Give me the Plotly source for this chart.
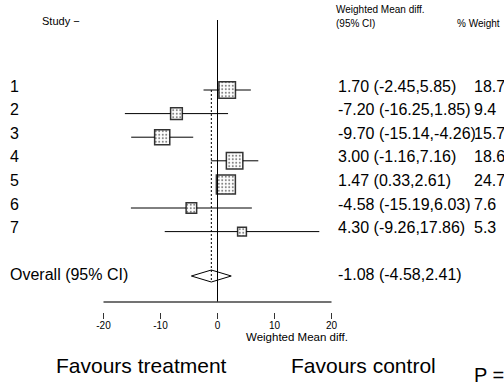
import plotly.graph_objects as go
import numpy as np

# ---- data ----
studies = ["1", "2", "3", "4", "5", "6", "7"]
estimates = [1.70, -7.20, -9.70, 3.00, 1.47, -4.58, 4.30]
ci_low = [-2.45, -16.25, -15.14, -1.16, 0.33, -15.19, -9.26]
ci_high = [5.85, 1.85, -4.26, 7.16, 2.61, 6.03, 17.86]
weights = [18.7, 9.4, 15.7, 18.6, 24.7, 7.6, 5.3]
overall_est = -1.08
overall_low = -4.58
overall_high = 2.41
tick_values = [-20, -10, 0, 10, 20]
tick_labels = ["-20", "-10", "0", "10", "20"]

# ---- layout geometry (pixels) ----
W, H = 504, 388
X0_PX = 217.5      # pixel of x = 0
PX_PER_UNIT = 5.7
ROW0 = 90.0
ROW_STEP = 23.6
OVERALL_Y = 276.0
AXIS_Y = 302.0
MAX_SIDE = 19.0
FONT = "Liberation Sans, Arial, sans-serif"

xmin = -X0_PX / PX_PER_UNIT
xmax = (W - X0_PX) / PX_PER_UNIT

row_y = [ROW0 + i * ROW_STEP for i in range(len(studies))]
max_w = max(weights)
sides = [MAX_SIDE * np.sqrt(w / max_w) for w in weights]
half_units = [s / 2 / PX_PER_UNIT for s in sides]

fig = go.Figure()

# CI lines, split around the boxes
lx, ly = [], []
for est, lo, hi, y, hu in zip(estimates, ci_low, ci_high, row_y, half_units):
    if lo < est - hu:
        lx += [lo, est - hu, None]
        ly += [y, y, None]
    if hi > est + hu:
        lx += [est + hu, hi, None]
        ly += [y, y, None]
fig.add_trace(go.Scatter(x=lx, y=ly, mode="lines",
                         line=dict(color="black", width=1),
                         hoverinfo="skip", showlegend=False))

# boxes (area proportional to weight)
fig.add_trace(go.Bar(
    orientation="h",
    y=row_y,
    base=[e - h for e, h in zip(estimates, half_units)],
    x=[2 * h for h in half_units],
    width=sides,
    marker=dict(color="white",
                line=dict(color="#333333", width=1.5),
                pattern=dict(shape=".", fgcolor="black", bgcolor="white",
                             size=3.5, solidity=0.25)),
    showlegend=False, hoverinfo="skip"))

# overall diamond
dh = 6
fig.add_trace(go.Scatter(
    x=[overall_low, overall_est, overall_high, overall_est, overall_low],
    y=[OVERALL_Y, OVERALL_Y - dh, OVERALL_Y, OVERALL_Y + dh, OVERALL_Y],
    mode="lines", fill="toself", fillcolor="white",
    line=dict(color="black", width=1), showlegend=False, hoverinfo="skip"))

shapes = [
    # no-effect line
    dict(type="line", xref="x", yref="y", x0=0, x1=0, y0=20, y1=AXIS_Y,
         line=dict(color="black", width=1)),
    # overall effect dashed line
    dict(type="line", xref="x", yref="y", x0=overall_est, x1=overall_est,
         y0=ROW0, y1=OVERALL_Y + dh, line=dict(color="black", width=1, dash="2px,2px")),
    # axis line
    dict(type="line", xref="x", yref="y", x0=tick_values[0], x1=tick_values[-1],
         y0=AXIS_Y, y1=AXIS_Y, line=dict(color="#444444", width=1.3)),
]

def px(xp):
    return xp / W

ann = []
def add_text(text, xp, yp, size, anchor="left"):
    ann.append(dict(text=text, x=px(xp), y=yp, xref="paper", yref="y",
                    xanchor=anchor, yanchor="middle", showarrow=False,
                    font=dict(family=FONT, size=size, color="black")))

add_text("Study \u2212", 40, 20.5, 11)
add_text("Weighted Mean diff.", 334, 9.5, 10)
add_text("(95% CI)", 334, 23, 10)
add_text("% Weight", 455, 23, 10)

for s, est, lo, hi, w, y in zip(studies, estimates, ci_low, ci_high, weights, row_y):
    add_text(s, 8, y - 4, 16)
    add_text(f"{est:.2f} ({lo:.2f},{hi:.2f})", 336, y - 4, 16)
    add_text(f"{w:.1f}", 472, y - 4, 16)

add_text("Overall (95% CI)", 8, OVERALL_Y - 2, 16)
add_text(f"{overall_est:.2f} ({overall_low:.2f},{overall_high:.2f})", 336, OVERALL_Y - 2, 16)
add_text("Weighted Mean diff.", 244, 336.5, 11.5)
add_text("Favours treatment", 54, 365, 21)
add_text("Favours control", 289, 365, 21)
add_text("P =", 472, 375, 20)

fig.update_layout(
    width=W, height=H,
    margin=dict(l=0, r=0, t=0, b=0, pad=0),
    paper_bgcolor="white", plot_bgcolor="white",
    barmode="overlay",
    showlegend=False,
    shapes=shapes, annotations=ann,
    xaxis=dict(range=[xmin, xmax], showgrid=False, zeroline=False, showline=False,
               ticks="outside", ticklen=6, tickwidth=1, tickcolor="#333333",
               tickvals=tick_values, ticktext=tick_labels,
               tickfont=dict(family=FONT, size=10, color="black"),
               ticklabelstandoff=-2,
               anchor="free", position=1 - 312 / H, automargin=False,
               fixedrange=True),
    yaxis=dict(range=[H, 0], visible=False, showgrid=False, zeroline=False,
               automargin=False, fixedrange=True),
)

fig.write_html("out.html", config={"displayModeBar": False})
